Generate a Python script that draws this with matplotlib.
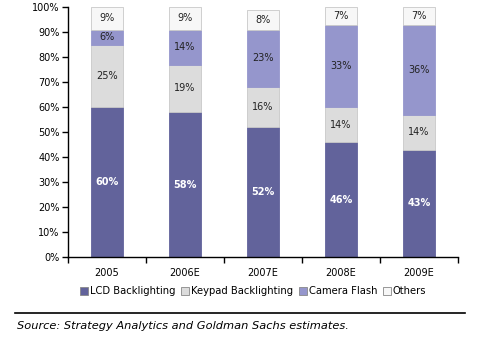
import numpy as np
import matplotlib.pyplot as plt
from matplotlib.lines import Line2D

years = ["2005", "2006E", "2007E", "2008E", "2009E"]
lcd = [60, 58, 52, 46, 43]
keypad = [25, 19, 16, 14, 14]
flash = [6, 14, 23, 33, 36]
others = [9, 9, 8, 7, 7]

names = ["LCD Backlighting", "Keypad Backlighting", "Camera Flash", "Others"]
colors = ["#62639b", "#dcdcdc", "#9596cc", "#f7f7f7"]
edges = ["#62639b", "#c8c8c8", "#9596cc", "#c8c8c8"]
txtcol = ["white", "#222222", "#222222", "#222222"]

fig = plt.figure(figsize=(4.87, 3.38), dpi=100)
ax = fig.add_axes([0.1396, 0.2396, 0.8004, 0.7394])

x = np.arange(len(years))
bottom = np.zeros(len(years))
for vals, c, e, tc in zip([lcd, keypad, flash, others], colors, edges, txtcol):
    vals = np.array(vals)
    ax.bar(x, vals, 0.41, bottom=bottom, color=c, edgecolor=e, linewidth=0.6)
    for xi, b, v in zip(x, bottom, vals):
        ax.text(xi, b + v / 2, f"{v}%", ha="center", va="center", fontsize=7,
                color=tc, fontweight="bold" if tc == "white" else "normal")
    bottom += vals

ax.set_xlim(-0.5, len(years) - 0.5)
ax.set_ylim(0, 100)
ax.set_yticks(np.arange(0, 101, 10))
ax.set_yticklabels([f"{v}%" for v in range(0, 101, 10)], fontsize=7)
ax.set_xticks(x)
ax.set_xticklabels(years, fontsize=7)
ax.set_xticks(np.arange(-0.5, len(years), 1), minor=True)
ax.tick_params(axis="x", which="major", length=0, pad=8)
ax.tick_params(axis="x", which="minor", length=4, direction="out", width=1)
ax.tick_params(axis="y", length=4, direction="out", width=1, pad=2)
for s in ["top", "right"]:
    ax.spines[s].set_visible(False)
for s in ["left", "bottom"]:
    ax.spines[s].set_linewidth(1)

handles = [Line2D([], [], marker="s", linestyle="", markersize=6,
                  markerfacecolor=c, markeredgecolor="#888888", markeredgewidth=0.6)
           for c in colors]
fig.legend(handles, names, loc="center", bbox_to_anchor=(0.52, 0.138), ncol=4,
           frameon=False, fontsize=7.2, handlelength=0.8, handletextpad=0.15,
           columnspacing=0.6, borderaxespad=0)

fig.add_artist(Line2D([0.03, 0.955], [0.074, 0.074], color="black", linewidth=1.2))
fig.text(0.035, 0.035, "Source: Strategy Analytics and Goldman Sachs estimates.",
         fontsize=8.2, style="italic", va="center")

fig.savefig("out.png", dpi=100)
